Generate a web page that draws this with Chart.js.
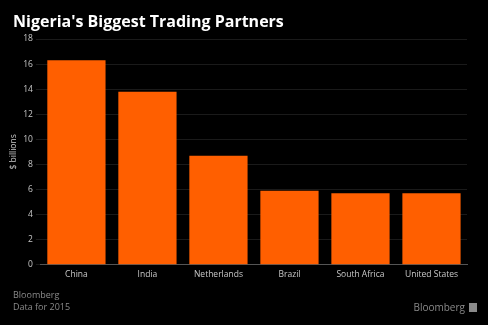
<!DOCTYPE html>
<html>
<head>
<meta charset="utf-8">
<script src="https://cdn.jsdelivr.net/npm/chart.js@4/dist/chart.umd.min.js"></script>
<style>
  html, body { margin: 0; padding: 0; background: #000; }
  #wrap { position: relative; width: 488px; height: 325px; }
  #title { position: absolute; left: 13px; top: 10px; font-family: "Open Sans", sans-serif; font-weight: bold; font-size: 16px; line-height: 22px; color: #fff; }
  .foot { position: absolute; font-family: "Open Sans", sans-serif; font-size: 9px; color: #8a8a8a; line-height: 12px; }
  #src { left: 13px; top: 289px; }
  #brand { right: 11px; top: 301px; font-size: 10px; }
  #brand span { display: inline-block; width: 8px; height: 9px; background: #8a8a8a; margin-left: 4px; vertical-align: -1px; }
</style>
</head>
<body>
<div id="wrap">
  <canvas id="trade" width="488" height="325"></canvas>
  <div id="title">Nigeria's Biggest Trading Partners</div>
  <div class="foot" id="src">Bloomberg<br>Data for 2015</div>
  <div class="foot" id="brand">Bloomberg<span></span></div>
</div>
<script>
var partners = ["China", "India", "Netherlands", "Brazil", "South Africa", "United States"];
var tradeValues = [16.3, 13.8, 8.7, 5.9, 5.7, 5.7];
var yTicks = [0, 2, 4, 6, 8, 10, 12, 14, 16, 18];

new Chart(document.getElementById("trade"), {
  type: 'bar',
  data: {
    labels: partners,
    datasets: [{
      label: "Trade",
      backgroundColor: "#ff5f00",
      data: tradeValues,
      barPercentage: 0.82,
      categoryPercentage: 1.0
    }]
  },
  options: {
    responsive: false,
    animation: false,
    layout: { padding: { left: 8, right: 21, top: 39, bottom: 40 } },
    plugins: {
      legend: { display: false },
      tooltip: { enabled: false }
    },
    scales: {
      x: {
        grid: { display: false, drawTicks: false },
        border: { color: '#555555' },
        ticks: { color: '#c8c8c8', font: { family: 'Open Sans', size: 8.5 }, padding: 5 }
      },
      y: {
        min: 0,
        max: 18,
        afterBuildTicks: function(axis) {
          axis.ticks = yTicks.map(function(v) { return { value: v }; });
        },
        grid: { color: '#1a1a1a', tickLength: 5, tickColor: '#1a1a1a' },
        border: { display: false },
        ticks: { color: '#c8c8c8', font: { family: 'Open Sans', size: 8.5 }, padding: 3 },
        title: {
          display: true,
          text: '$ billions',
          color: '#c8c8c8',
          font: { family: 'Open Sans', size: 8.5 },
          padding: { top: 0, bottom: 2 }
        }
      }
    }
  }
});
</script>
</body>
</html>
